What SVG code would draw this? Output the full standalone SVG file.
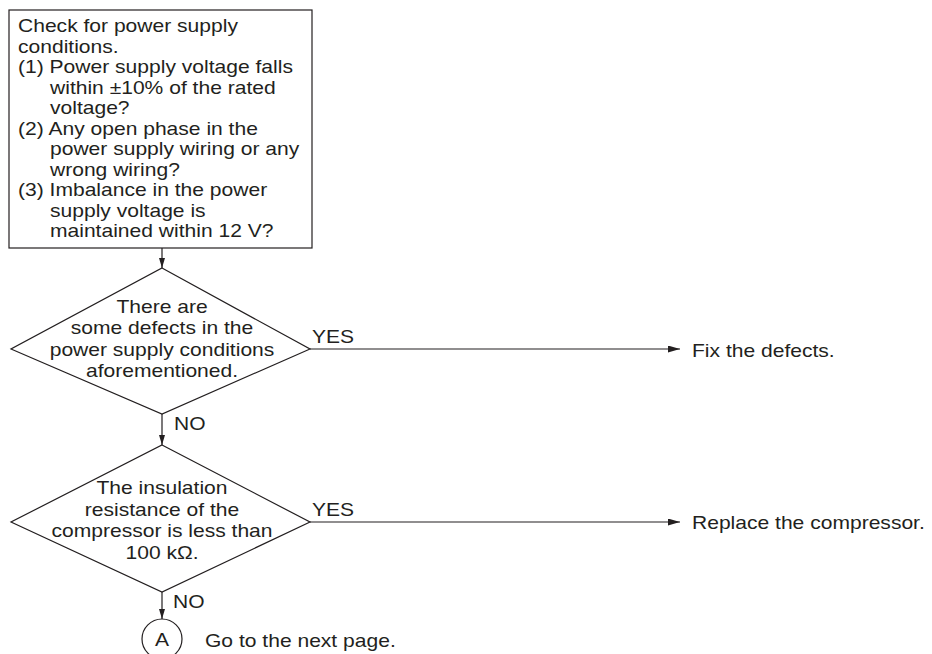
<svg xmlns="http://www.w3.org/2000/svg" width="932" height="654" viewBox="0 0 932 654">
<style>
  .shape { fill: #ffffff; stroke: #231f20; stroke-width: 1.2; }
  .conn { fill: none; stroke: #231f20; stroke-width: 1.2; }
  text { font-family: "Liberation Sans", Arial, sans-serif; font-size: 18px; fill: #231f20; }
  .c { text-anchor: middle; }
</style>
<defs>
  <marker id="ah" markerUnits="userSpaceOnUse" markerWidth="12" markerHeight="7" refX="12" refY="3.5" orient="auto">
    <path d="M0,0 L12,3.5 L0,7 z" fill="#231f20"/>
  </marker>
  <marker id="av" markerUnits="userSpaceOnUse" markerWidth="10" markerHeight="6" refX="10" refY="3" orient="auto">
    <path d="M0,0 L10,3 L0,6 z" fill="#231f20"/>
  </marker>
</defs>
<g id="connectors">
  <line class="conn" x1="162" y1="248" x2="162" y2="268" marker-end="url(#av)"/>
  <line class="conn" x1="162" y1="414" x2="162" y2="445" marker-end="url(#av)"/>
  <line class="conn" x1="162" y1="592" x2="162" y2="619" marker-end="url(#av)"/>
  <line class="conn" x1="310" y1="349" x2="680" y2="349" marker-end="url(#ah)"/>
  <line class="conn" x1="310" y1="522" x2="680" y2="522" marker-end="url(#ah)"/>
  <text transform="translate(312,343) scale(1.17,1)">YES</text>
  <text transform="translate(312,516) scale(1.17,1)">YES</text>
  <text transform="translate(174,430) scale(1.17,1)">NO</text>
  <text transform="translate(173,608) scale(1.17,1)">NO</text>
</g>
<g id="check">
  <rect class="shape" x="9" y="10" width="303" height="238"/>
  <text transform="translate(18,32.3) scale(1.17,1)">Check for power supply</text>
  <text transform="translate(18,52.8) scale(1.17,1)">conditions.</text>
  <text transform="translate(18,73.2) scale(1.17,1)">(1) Power supply voltage falls</text>
  <text transform="translate(50,93.7) scale(1.17,1)">within ±10% of the rated</text>
  <text transform="translate(50,114.2) scale(1.17,1)">voltage?</text>
  <text transform="translate(18,134.7) scale(1.17,1)">(2) Any open phase in the</text>
  <text transform="translate(50,155.1) scale(1.17,1)">power supply wiring or any</text>
  <text transform="translate(50,175.6) scale(1.17,1)">wrong wiring?</text>
  <text transform="translate(18,196.1) scale(1.17,1)">(3) Imbalance in the power</text>
  <text transform="translate(50,216.5) scale(1.17,1)">supply voltage is</text>
  <text transform="translate(50,237) scale(1.17,1)">maintained within 12 V?</text>
</g>
<g id="decision1">
  <polygon class="shape" points="162,268 310,349 162,414 11,349"/>
  <text class="c" transform="translate(162,312.5) scale(1.17,1)">There are</text>
  <text class="c" transform="translate(162,334) scale(1.17,1)">some defects in the</text>
  <text class="c" transform="translate(162,355.5) scale(1.17,1)">power supply conditions</text>
  <text class="c" transform="translate(162,377) scale(1.17,1)">aforementioned.</text>
</g>
<g id="fix">
  <text transform="translate(692,357) scale(1.17,1)">Fix the defects.</text>
</g>
<g id="decision2">
  <polygon class="shape" points="162,445 310,522 162,592 11,522"/>
  <text class="c" transform="translate(162,494) scale(1.17,1)">The insulation</text>
  <text class="c" transform="translate(162,515.5) scale(1.17,1)">resistance of the</text>
  <text class="c" transform="translate(162,537) scale(1.17,1)">compressor is less than</text>
  <text class="c" transform="translate(162,558.5) scale(1.17,1)">100 kΩ.</text>
</g>
<g id="replace">
  <text transform="translate(692,529) scale(1.17,1)">Replace the compressor.</text>
</g>
<g id="connectorA">
  <circle class="shape" cx="162" cy="639" r="20"/>
  <text class="c" transform="translate(162,646) scale(1.17,1)">A</text>
  <text transform="translate(205,647) scale(1.17,1)">Go to the next page.</text>
</g>
</svg>
